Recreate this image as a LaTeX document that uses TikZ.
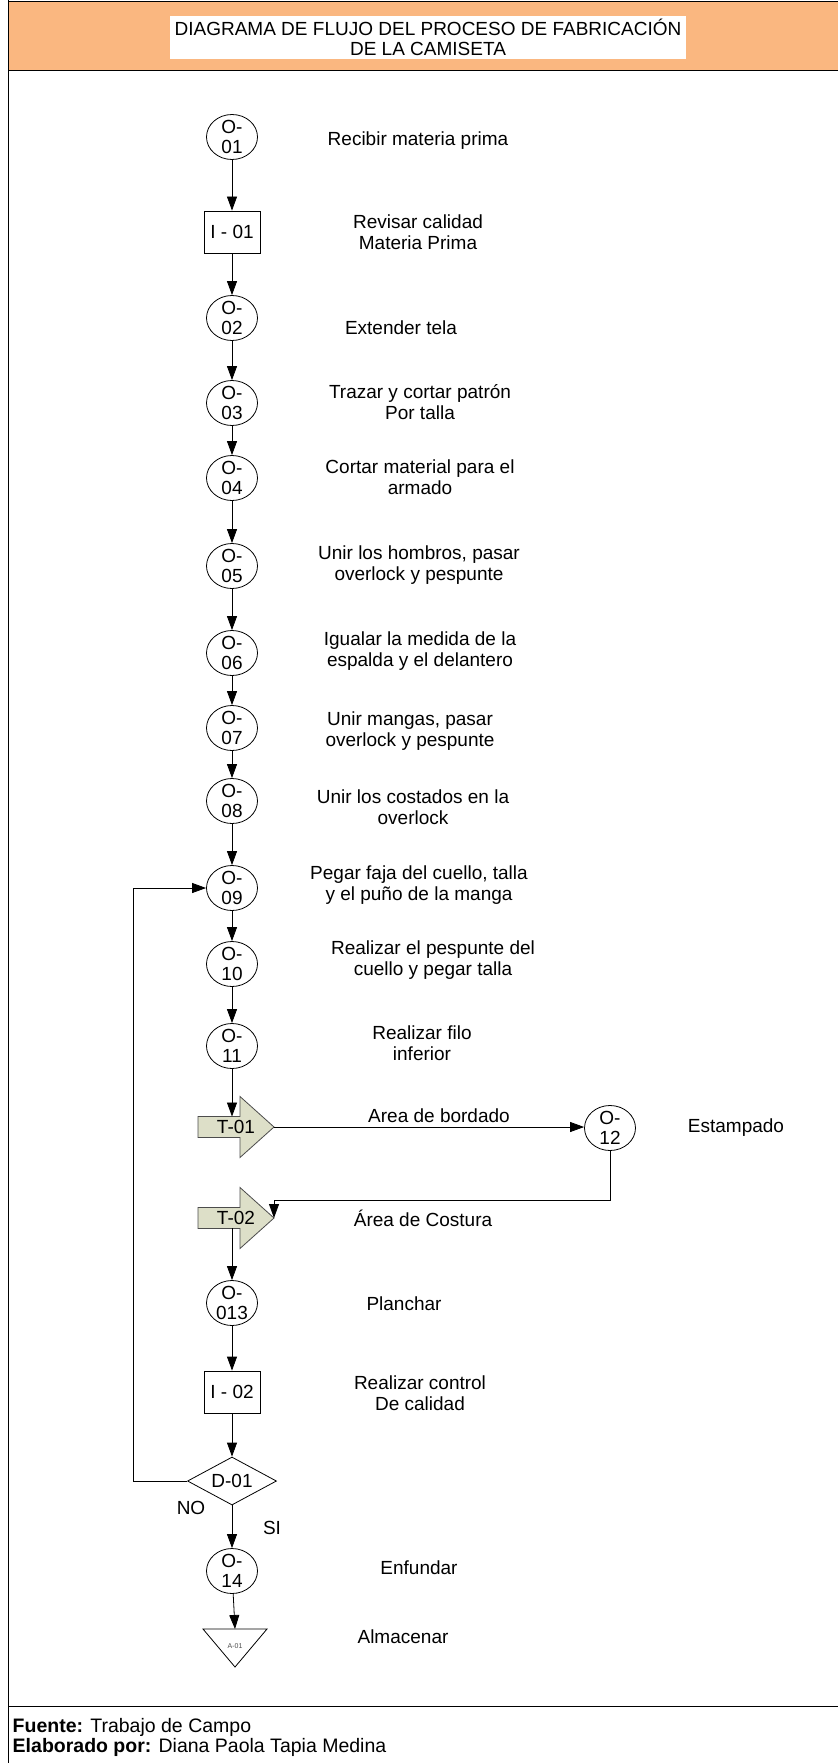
\documentclass[tikz,border=0pt]{standalone}
\usepackage{fontspec}
\setmainfont{Liberation Sans}
\usetikzlibrary{arrows.meta,shapes.geometric}
\definecolor{hdrorange}{RGB}{250,183,128}
\definecolor{tgray}{RGB}{221,223,200}

\begin{document}
\begin{tikzpicture}[x=1pt,y=-1pt,>={Triangle[length=14pt,width=10pt]},line width=0.8pt,
  every node/.style={font=\fontsize{19}{20.5}\selectfont},
  op/.style={ellipse,draw,minimum width=51pt,minimum height=45pt,inner sep=0pt,
    label={[align=center,font=\fontsize{19}{20}\selectfont]center:#1}},
  insp/.style={rectangle,draw,minimum width=56pt,minimum height=42pt,inner sep=0pt},
  dec/.style={diamond,draw,aspect=1.85,minimum width=89pt,minimum height=48pt,inner sep=0pt},
  desc/.style={align=center}]
  \useasboundingbox (0,0) rectangle (838,1763);
  % header
  \fill[hdrorange] (8,1) rectangle (838,70);
  \draw (8,1) -- (838,1);
  \draw (8,70) -- (838,70);
  \draw (8,0) -- (8,1763);
  \draw (8,1706) -- (838,1706);
  \node[fill=white,minimum width=516pt,minimum height=43pt,inner sep=0pt,align=center,
    font=\fontsize{19}{20}\selectfont] (title) at (428,37.5)
    {DIAGRAMA DE FLUJO DEL PROCESO DE FABRICACIÓN\\DE LA CAMISETA};
  % operations
  \foreach \n/\y in {01/137, 02/318, 03/403, 04/478, 05/566, 06/653, 07/728, 08/801,
                     09/888, 10/964, 11/1046, 013/1303, 14/1571}
    \node[op={O-\\\n}] (o\n) at (232,\y) {};
  \node[op={O-\\12}] (o12) at (610,1128) {};
  % inspections and decision
  \node[insp] (i01) at (232,232) {I - 01};
  \node[insp] (i02) at (232,1392) {I - 02};
  \node[dec] (d01) at (232,1481) {D-01};
  % transports
  \foreach \n/\y in {01/1127, 02/1218} {
    \filldraw[fill=tgray,draw=black!70] (198,\y-10.5) -- (240,\y-10.5) -- (240,\y-30.5)
      -- (274,\y) -- (240,\y+30.5) -- (240,\y+10.5) -- (198,\y+10.5) -- cycle;
    \node (t\n) at (236,\y) {T-\n};
    \coordinate (t\n tip) at (274,\y);
  }
  % storage
  \draw (203,1629) -- (267,1629) -- (235,1667) -- cycle;
  \node[font=\fontsize{7}{8}\selectfont,black!70] (a01) at (235,1646) {A-01};
  \coordinate (a01top) at (235,1629);
  % descriptions
  \foreach \i/\x/\y/\txt in {1/418/141/Recibir materia prima,
      2/418/232/{Revisar calidad\\Materia Prima},
      3/401/328/Extender tela,
      4/420/402/{Trazar y cortar patrón\\Por talla},
      5/420/477/{Cortar material para el\\armado},
      6/419/565/{Unir los hombros, pasar\\overlock y pespunte},
      7/420/651/{Igualar la medida de la\\espalda y el delantero},
      8/410/731/{Unir mangas, pasar\\overlock y pespunte},
      9/413/807/{Unir los costados en la\\overlock},
      10/419/885/{Pegar faja del cuello, talla\\y el puño de la manga},
      11/433/960/{Realizar el pespunte del\\cuello y pegar talla},
      12/422/1043/{Realizar filo\\inferior},
      13/439/1116/Area de bordado,
      14/736/1128/Estampado,
      15/423/1218/Área de Costura,
      16/404/1304/Planchar,
      17/420/1393/{Realizar control\\De calidad},
      18/419/1568/Enfundar,
      19/403/1637/Almacenar}
    \node[desc] (lab\i) at (\x,\y) {\txt};
  \node (no) at (191,1508) {NO};
  \node (si) at (272,1528) {SI};
  % connectors
  \foreach \a/\b in {o01/i01, i01/o02, o02/o03, o03/o04, o04/o05, o05/o06, o06/o07,
                     o07/o08, o08/o09, o09/o10, o10/o11, o013/i02, i02/d01, d01/o14}
    \draw[->] (\a) -- (\b);
  \draw[->] (o11) -- (o11.south |- t01.north);
  \draw[->] (t01tip) -- (t01tip -| o12.west);
  \draw[->] (o12) -- ++(0,72) -| (t02tip);
  \draw[->] (t02.south -| o013.north) -- (o013);
  \draw[->] (o14) -- (a01top);
  \draw[->] (d01.west) -- ++(-54,0) |- (o09.west);
  % footer
  \node[anchor=west,font=\fontsize{19.5}{21}\selectfont] (fuente) at (9,1727)
    {\textbf{Fuente:} Trabajo de Campo};
  \node[anchor=west,font=\fontsize{19.5}{21}\selectfont] (elab) at (9,1747)
    {\textbf{Elaborado por:} Diana Paola Tapia Medina};
\end{tikzpicture}
\end{document}
